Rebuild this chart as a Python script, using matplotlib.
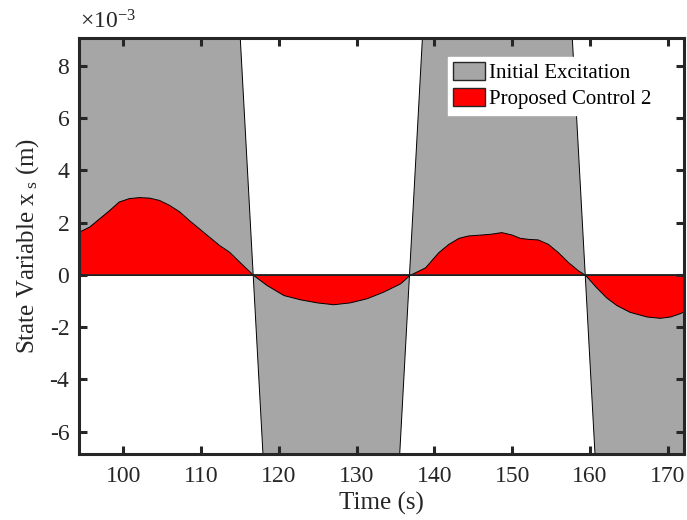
import matplotlib
matplotlib.use('Agg')
import matplotlib.pyplot as plt
from matplotlib.patches import Patch

plt.rcParams['font.family'] = ['Liberation Serif', 'DejaVu Serif']
plt.rcParams['mathtext.fontset'] = 'custom'
plt.rcParams['mathtext.rm'] = 'Liberation Serif'
plt.rcParams['mathtext.it'] = 'Liberation Serif:italic'
plt.rcParams['axes.unicode_minus'] = False

# values in units of 1e-3 m
# initial excitation: steep transitions, clipped by the axes
exc_t = [90.0, 114.5, 116.7, 118.9, 134.6, 136.8, 139.0, 157.2, 159.4, 161.6, 175.0]
exc_v = [12.0, 12.0, 0.0, -12.0, -12.0, 0.0, 12.0, 12.0, 0.0, -12.0, -12.0]

# proposed control 2
ctl_t = [94.3, 95.6, 96.9, 98.2, 99.4, 100.7, 102.0, 103.3, 104.6, 105.9, 107.2, 108.4,
         109.7, 111.0, 112.3, 113.6, 114.9, 116.7,
         118.4, 120.6, 122.7, 124.9, 127.0, 129.1, 131.3, 133.4, 135.6, 136.8,
         138.8, 140.5, 141.8, 143.1, 144.3, 146.1, 147.3, 148.6, 149.9, 151.0,
         152.1, 153.3, 154.6, 155.9, 157.2, 158.5, 159.4,
         160.8, 162.1, 163.4, 165.1, 167.3, 169.0, 170.3, 171.6, 172.1]
ctl_v = [1.66, 1.85, 2.17, 2.49, 2.81, 2.94, 2.98, 2.96, 2.87, 2.68, 2.43, 2.11,
         1.79, 1.47, 1.15, 0.89, 0.51, 0.0,
         -0.38, -0.77, -0.93, -1.05, -1.12, -1.05, -0.89, -0.64, -0.32, 0.0,
         0.29, 0.87, 1.19, 1.42, 1.51, 1.55, 1.58, 1.64, 1.55, 1.42,
         1.38, 1.36, 1.19, 0.87, 0.49, 0.17, 0.0,
         -0.47, -0.86, -1.15, -1.41, -1.59, -1.64, -1.59, -1.46, -1.38]

xticks = [100, 110, 120, 130, 140, 150, 160, 170]
yticks = [-6, -4, -2, 0, 2, 4, 6, 8]

fig = plt.figure(figsize=(6.87, 5.2), dpi=100)
ax = fig.add_axes([0.115, 0.127, 0.8806, 0.8])

ax.fill_between(exc_t, exc_v, 0, facecolor='#a6a6a6', edgecolor='black', linewidth=0.7,
                label='Initial Excitation')
ax.fill_between(ctl_t, ctl_v, 0, facecolor='#ff0000', edgecolor='black', linewidth=0.7,
                label='Proposed Control 2')
ax.axhline(0, color='#262626', linewidth=1.2)

ax.set_xlim(94.3, 172.1)
ax.set_ylim(-6.85, 9.07)
ax.set_xticks(xticks)
ax.set_yticks(yticks)

for s in ax.spines.values():
    s.set_linewidth(2.2)
    s.set_color('#262626')
ax.tick_params(direction='in', top=True, right=True, length=6, width=2.2,
               color='#262626', labelsize=17, labelcolor='#262626')
ax.tick_params(axis='x', pad=9)
ax.tick_params(axis='y', pad=7)

ax.set_xlabel('Time (s)', fontsize=18, labelpad=3, color='#262626')
ax.set_ylabel(r'State Variable x$_{\mathrm{\ s}}$ (m)', fontsize=18, labelpad=6, color='#262626')
fig.text(0.117, 0.935, r'$\times$10$^{\mathrm{-3}}$', fontsize=17, ha='left', va='bottom',
         color='#262626')

handles = [Patch(facecolor='#a6a6a6', edgecolor='#262626', label='Initial Excitation'),
           Patch(facecolor='#ff0000', edgecolor='#262626', label='Proposed Control 2')]
leg = ax.legend(handles=handles, loc='upper right', bbox_to_anchor=(0.955, 0.955),
                fontsize=15, frameon=True, fancybox=False, edgecolor='white',
                framealpha=1, handlelength=1.55, handleheight=0.95, handletextpad=0.2,
                borderpad=0.25, labelspacing=0.25, borderaxespad=0)

fig.savefig('out.png', dpi=100)
